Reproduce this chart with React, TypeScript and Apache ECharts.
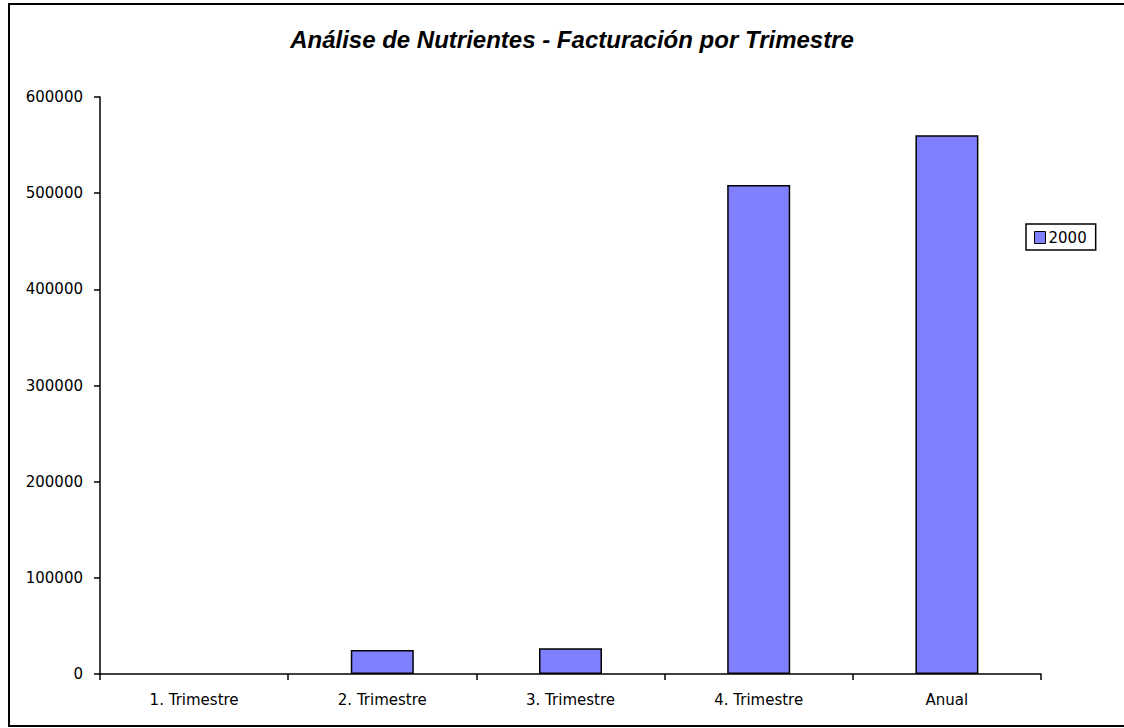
import React, { useEffect, useRef } from "react";
import * as echarts from "echarts";

const categories = ["1. Trimestre", "2. Trimestre", "3. Trimestre", "4. Trimestre", "Anual"];
const values2000 = [0, 25000, 26800, 508500, 560300];
const seriesName = "2000";
const titleText = "Análise de Nutrientes - Facturación por Trimestre";

export default function App() {
  const ref = useRef<HTMLDivElement>(null);
  useEffect(() => {
    if (!ref.current) return;
    const chart = echarts.init(ref.current, null, { renderer: "svg" });
    chart.setOption({
      animation: false,
      backgroundColor: "#ffffff",
      title: {
        text: titleText,
        left: 567,
        top: 22,
        textAlign: "center",
        textStyle: {
          fontFamily: "Liberation Sans",
          fontWeight: "bold",
          fontStyle: "italic",
          fontSize: 24,
          color: "#000",
        },
      },
      legend: {
        left: 1026,
        top: 224,
        orient: "vertical",
        padding: [6, 9, 5, 8],
        borderColor: "#000",
        borderWidth: 1.5,
        itemWidth: 11,
        itemHeight: 12,
        itemGap: 0,
        icon: "rect",
        itemStyle: { borderColor: "#000", borderWidth: 1 },
        textStyle: { fontFamily: "DejaVu Sans", fontSize: 15, color: "#000", padding: [0, 0, 0, -2] },
        data: [seriesName],
      },
      grid: { left: 100, right: 83, top: 97, bottom: 54 },
      xAxis: {
        type: "category",
        data: categories,
        boundaryGap: true,
        axisLine: { lineStyle: { color: "#000", width: 1.5 } },
        axisTick: { show: true, length: 6, lineStyle: { color: "#000", width: 1.5 } },
        axisLabel: { margin: 18, fontFamily: "DejaVu Sans", fontSize: 15, color: "#000" },
        splitLine: { show: false },
      },
      yAxis: {
        type: "value",
        min: 0,
        max: 600000,
        interval: 100000,
        axisLine: { show: true, lineStyle: { color: "#000", width: 1.5 } },
        axisTick: { show: true, length: 6, lineStyle: { color: "#000", width: 1.5 } },
        axisLabel: {
          margin: 17,
          fontFamily: "DejaVu Sans",
          fontSize: 15,
          color: "#000",
          formatter: (v: number) => String(v),
        },
        splitLine: { show: false },
      },
      series: [
        {
          name: seriesName,
          type: "bar",
          data: values2000.map((v) => (v === 0 ? { value: v, itemStyle: { borderWidth: 0, opacity: 0 } } : v)),
          barWidth: 63,
          itemStyle: { color: "#8080FF", borderColor: "#000", borderWidth: 1.5 },
        },
      ],
      graphic: [
        {
          type: "rect",
          shape: { x: 9, y: 4, width: 1122, height: 722 },
          style: { fill: "none", stroke: "#000", lineWidth: 2 },
          silent: true,
        },
      ],
    });
    return () => chart.dispose();
  }, []);
  return (
    <div
      ref={ref}
      style={{ position: "absolute", left: 0, top: 0, width: 1124, height: 728 }}
    />
  );
}
